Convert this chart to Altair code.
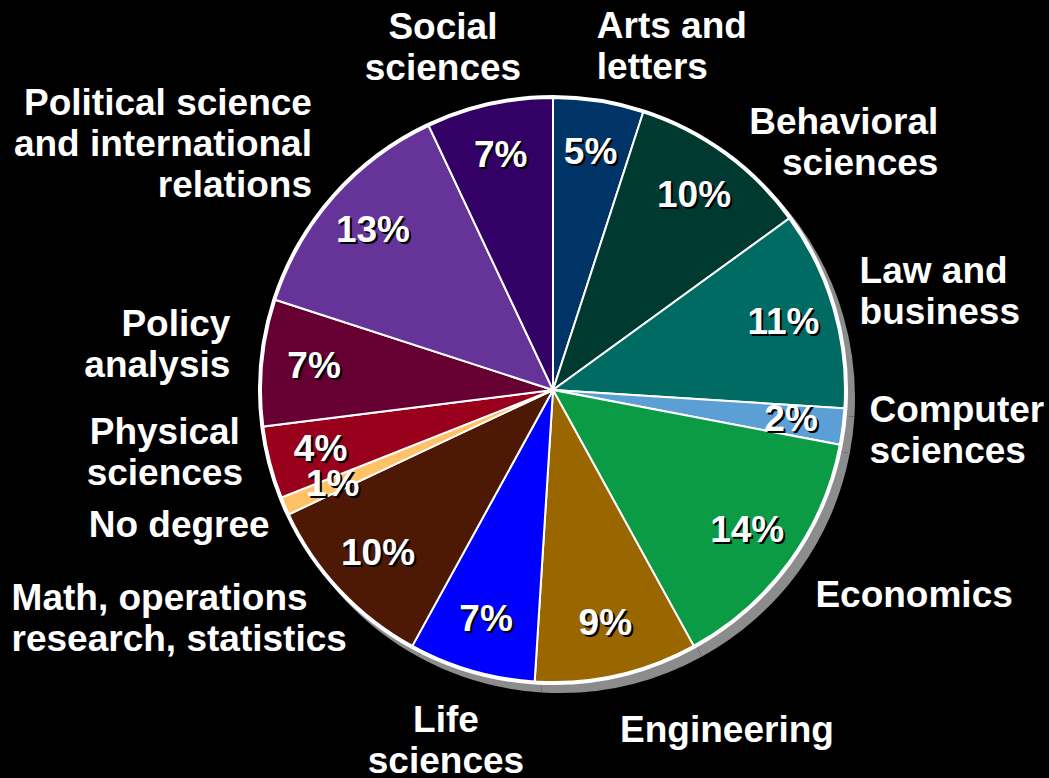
import altair as alt
import pandas as pd
import jinja2

# ---- data ----
names = [
    "Arts and\nletters",
    "Behavioral\nsciences",
    "Law and\nbusiness",
    "Computer\nsciences",
    "Economics",
    "Engineering",
    "Life\nsciences",
    "Math, operations\nresearch, statistics",
    "No degree",
    "Physical\nsciences",
    "Policy\nanalysis",
    "Political science\nand international\nrelations",
    "Social\nsciences",
]
values = [5, 10, 11, 2, 14, 9, 7, 10, 1, 4, 7, 13, 7]
colors = [
    "#003366", "#00392f", "#006b63", "#5b9fd4", "#0c9b45", "#9a6600",
    "#0000ff", "#4d1905", "#ffc266", "#99001c", "#660033", "#663399",
    "#330066",
]

# ---- label placement style (align, nudge x, nudge y) relative to the slice's polar anchor ----
label_style = {
    "Arts and\nletters": ("left", -5, -55),
    "Behavioral\nsciences": ("right", 202, -15),
    "Law and\nbusiness": ("left", 7, -31),
    "Computer\nsciences": ("left", 7, -18),
    "Economics": ("left", 10, 23),
    "Engineering": ("left", -1, 37),
    "Life\nsciences": ("center", -20, 31),
    "Math, operations\nresearch, statistics": ("left", -314, -5),
    "No degree": ("right", 3, 12),
    "Physical\nsciences": ("center", -86, -35),
    "Policy\nanalysis": ("right", -12, -36),
    "Political science\nand international\nrelations": ("right", -7, -80),
    "Social\nsciences": ("center", -42, -58),
}

df = pd.DataFrame({"name": names, "value": values, "order": list(range(len(names)))})

FONT = "Liberation Sans"
FS = 37
R_PIE = 292
theta_dom = alt.Scale(domain=[0, 100])

base = (
    alt.Chart(df)
    .transform_window(end="sum(value)", sort=[alt.SortField("order")])
    .transform_calculate(
        start="datum.end - datum.value",
        mid="datum.end - datum.value / 2",
        pct="datum.value + '%'",
    )
)

arc_enc = dict(
    theta=alt.Theta("start:Q", scale=theta_dom),
    theta2="end:Q",
)

shadow = base.mark_arc(radius=R_PIE + 3, xOffset=7, yOffset=8, stroke=None).encode(
    color=alt.value("#8c8c8c"), **arc_enc
)
ring = base.mark_arc(radius=R_PIE + 3, stroke=None).encode(
    color=alt.value("white"), **arc_enc
)
slices = base.mark_arc(radius=R_PIE, stroke="white", strokeWidth=2).encode(
    color=alt.Color("name:N", scale=alt.Scale(domain=names, range=colors), legend=None),
    **arc_enc,
)

txt_theta = alt.Theta("mid:Q", scale=theta_dom)

pct_shadow = base.mark_text(
    radius=240, font=FONT, fontSize=FS, fontWeight="bold", dx=2, dy=2,
    align="center", baseline="middle",
).encode(theta=txt_theta, text="pct:N", color=alt.value("black"))
pct_text = base.mark_text(
    radius=240, font=FONT, fontSize=FS, fontWeight="bold",
    align="center", baseline="middle",
).encode(theta=txt_theta, text="pct:N", color=alt.value("white"))

layers = [shadow, ring, slices, pct_shadow, pct_text]

for nm in names:
    al, ndx, ndy = label_style[nm]
    layers.append(
        base.transform_filter(alt.FieldEqualPredicate(field="name", equal=nm))
        .mark_text(
            radius=312, font=FONT, fontSize=FS, fontWeight="bold",
            lineBreak="\n", lineHeight=41, align=al, baseline="middle",
            dx=ndx, dy=ndy,
        )
        .encode(theta=txt_theta, text="name:N", color=alt.value("white"))
    )

chart = (
    alt.layer(*layers)
    .properties(
        width=976,
        height=760,
        padding={"left": 65, "top": 10, "right": 8, "bottom": 8},
        autosize=alt.AutoSizeParams(type="none"),
        background="black",
    )
    .configure_view(stroke=None)
)

PAGE = jinja2.Template("""<!DOCTYPE html>
<html>
<head>
<meta charset="utf-8">
<style>
  html, body { background: #000; overflow: hidden; margin: 0; padding: 0; }
  #{{ output_div }}.vega-embed { width: 100%; display: flex; }
</style>
<script type="text/javascript" src="{{ base_url }}/vega@{{ vega_version }}"></script>
<script type="text/javascript" src="{{ base_url }}/vega-lite@{{ vegalite_version }}"></script>
<script type="text/javascript" src="{{ base_url }}/vega-embed@{{ vegaembed_version }}"></script>
</head>
<body>
<div id="{{ output_div }}"></div>
<script>
  (function(spec, embedOpt){
    let outputDiv = document.getElementById("{{ output_div }}");
    vegaEmbed(outputDiv, spec, embedOpt).catch(function(err){ outputDiv.innerHTML = String(err); });
  })({{ spec }}, {{ embed_options }});
</script>
</body>
</html>
""")

chart.save("out.html", embed_options={"renderer": "svg", "actions": False}, template=PAGE)
